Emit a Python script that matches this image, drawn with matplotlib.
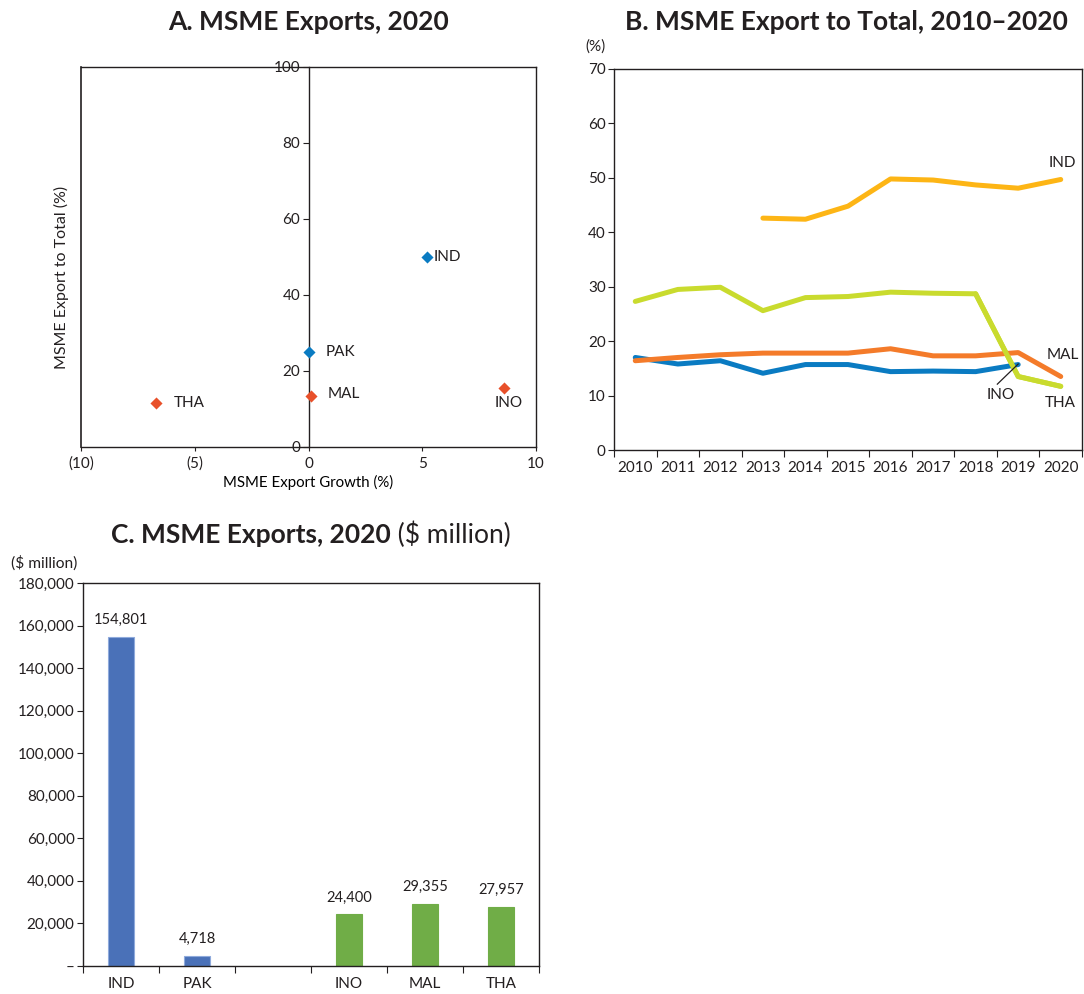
import matplotlib
matplotlib.use("Agg")
import matplotlib.pyplot as plt
from matplotlib.ticker import FuncFormatter, FixedLocator

plt.rcParams['font.family'] = ['Lato', 'DejaVu Sans']
plt.rcParams['text.color'] = '#231F20'
plt.rcParams['xtick.color'] = '#231F20'
plt.rcParams['ytick.color'] = '#231F20'

# Panel A: growth vs share, 2020
scatter_names = ["IND", "PAK", "MAL", "THA", "INO"]
export_growth = [5.2, 0.0, 0.1, -6.7, 8.6]
export_share = [50.0, 25.0, 13.5, 11.5, 15.6]
scatter_colors = ["#0A7BC2", "#0A7BC2", "#E8502A", "#E8502A", "#E8502A"]

# Panel B: share of MSME exports in total, 2010-2020
years = ["2010", "2011", "2012", "2013", "2014", "2015", "2016", "2017", "2018", "2019", "2020"]
share_ind = [None, None, None, 42.6, 42.4, 44.8, 49.8, 49.6, 48.7, 48.1, 49.7]
share_tha = [27.3, 29.5, 29.9, 25.6, 28.0, 28.2, 29.0, 28.8, 28.7, 13.5, 11.7]
share_mal = [16.4, 17.0, 17.5, 17.8, 17.8, 17.8, 18.6, 17.3, 17.3, 17.9, 13.5]
share_ino = [17.0, 15.8, 16.4, 14.1, 15.7, 15.7, 14.4, 14.5, 14.4, 15.7, None]

# Panel C: MSME exports 2020 ($ million)
bar_names = ["IND", "PAK", "", "INO", "MAL", "THA"]
bar_values = [154801, 4718, None, 24400, 29355, 27957]
bar_colors = ["#4A71B8", "#4A71B8", None, "#70AD47", "#70AD47", "#70AD47"]

fig = plt.figure(figsize=(10.84, 9.94), dpi=100)
W, H = 1084, 994
TITLE = 19


def box(l, t, r, b):
    return [l / W, 1 - b / H, (r - l) / W, (b - t) / H]


# ---------- A ----------
axA = fig.add_axes(box(81, 67, 536, 447))
for n, x, y, c in zip(scatter_names, export_growth, export_share, scatter_colors):
    axA.scatter(x, y, marker="D", s=38, color=c, zorder=3, linewidths=0)
offsets = {"IND": (5, 0, "left", "center"), "PAK": (12, 0, "left", "center"),
           "MAL": (12, 1, "left", "center"), "THA": (13, 0, "left", "center"),
           "INO": (3, -6, "center", "top")}
for n, x, y in zip(scatter_names, export_growth, export_share):
    dx, dy, ha, va = offsets[n]
    axA.annotate(n, (x, y), xytext=(dx, dy), textcoords="offset points",
                 ha=ha, va=va, fontsize=11)
axA.set_xlim(-10, 10)
axA.set_ylim(0, 100)
axA.spines['left'].set_position(('data', 0))
axA.axvline(-10, color='#231F20', lw=1.2, clip_on=False, zorder=4)
for s in axA.spines.values():
    s.set_color('#231F20')
    s.set_linewidth(1.0)
axA.set_xticks([-10, -5, 0, 5, 10])
axA.set_xticklabels(["(10)", "(5)", "0", "5", "10"], fontsize=11)
axA.set_yticks([0, 20, 40, 60, 80, 100])
axA.tick_params(axis='y', direction='out', length=4, labelsize=11, pad=2)
axA.tick_params(axis='x', direction='out', length=3, pad=4)
axA.set_xlabel("MSME Export Growth (%)", fontsize=10.8, labelpad=3)
fig.text(61 / W, 1 - 277 / H, "MSME Export to Total (%)", rotation=90,
         fontsize=11.5, ha='center', va='center')
fig.text(308.5 / W, 1 - 22 / H, "A. MSME Exports, 2020", fontsize=TITLE,
         fontweight='bold', ha='center', va='center')

# ---------- B ----------
axB = fig.add_axes(box(614, 69, 1082, 450))
xs = list(range(len(years)))


def seg(vals):
    pts = [(x, v) for x, v in zip(xs, vals) if v is not None]
    return [p[0] for p in pts], [p[1] for p in pts]


for vals, c in [(share_tha, "#C9DB2E"), (share_ind, "#FDB515"),
                (share_ino, "#0A7BC2"), (share_mal, "#F47B2A")]:
    px, py = seg(vals)
    axB.plot(px, py, color=c, lw=3.6, solid_capstyle='round', solid_joinstyle='round')
# thailand drawn over the others where it drops
px, py = seg(share_tha)
axB.plot(px[8:], py[8:], color="#C9DB2E", lw=3.6, solid_capstyle='round', zorder=3)
axB.set_xlim(-0.5, 10.5)
axB.set_ylim(0, 70)
axB.set_yticks(range(0, 71, 10))
axB.xaxis.set_major_locator(FixedLocator([i - 0.5 for i in range(12)]))
axB.xaxis.set_major_formatter(FuncFormatter(lambda v, p: ""))
axB.xaxis.set_minor_locator(FixedLocator(xs))
axB.set_xticklabels(years, minor=True)
axB.tick_params(axis='x', which='major', direction='out', length=5)
axB.tick_params(axis='x', which='minor', length=0, labelsize=11, pad=8)
axB.tick_params(axis='y', direction='out', length=4, labelsize=11, pad=2)
for s in axB.spines.values():
    s.set_color('#231F20')
    s.set_linewidth(1.0)
axB.text(10.05, 52.7, "IND", ha='center', va='center', fontsize=11)
axB.text(10.05, 17.5, "MAL", ha='center', va='center', fontsize=11)
axB.text(10.0, 8.6, "THA", ha='center', va='center', fontsize=11)
axB.text(8.58, 10.1, "INO", ha='center', va='center', fontsize=11)
axB.plot([8.51, 9.0], [12.1, 15.8], color='#231F20', lw=0.9, zorder=5)
fig.text(595 / W, 1 - 47 / H, "(%)", fontsize=11, ha='center', va='center')
fig.text(846 / W, 1 - 22 / H, "B. MSME Export to Total, 2010\u20132020", fontsize=TITLE,
         fontweight='bold', ha='center', va='center')

# ---------- C ----------
axC = fig.add_axes(box(83, 583, 539, 966))
bx = list(range(len(bar_names)))
for x, v, c in zip(bx, bar_values, bar_colors):
    if v is None:
        continue
    axC.bar(x, v, width=0.33, color=c, edgecolor='#8FAADC' if c == "#4A71B8" else c, lw=0.8)
    axC.text(x, v + 4500, f"{v:,}", ha='center', va='bottom', fontsize=10.5)
axC.set_xlim(-0.5, 5.5)
axC.set_ylim(0, 180000)
axC.set_yticks(range(0, 180001, 20000))
axC.yaxis.set_major_formatter(FuncFormatter(lambda v, p: "\u2013" if v == 0 else f"{int(v):,}"))
axC.xaxis.set_major_locator(FixedLocator([i - 0.5 for i in range(7)]))
axC.xaxis.set_major_formatter(FuncFormatter(lambda v, p: ""))
axC.xaxis.set_minor_locator(FixedLocator(bx))
axC.set_xticklabels(bar_names, minor=True)
axC.tick_params(axis='x', which='major', direction='out', length=5)
axC.tick_params(axis='x', which='minor', length=0, labelsize=11, pad=8)
axC.tick_params(axis='y', direction='out', length=4, labelsize=11, pad=2)
for s in axC.spines.values():
    s.set_color('#231F20')
    s.set_linewidth(1.0)
fig.text(44 / W, 1 - 563 / H, "($ million)", fontsize=11.2, ha='center', va='center')

# title with bold + regular parts
fig.canvas.draw()
r = fig.canvas.get_renderer()
t1 = fig.text(0, 1 - 535 / H, "C. MSME Exports, 2020", fontsize=TITLE, fontweight='bold',
              ha='left', va='center')
t2 = fig.text(0, 1 - 535 / H, " ($ million)", fontsize=TITLE, ha='left', va='center')
w1 = t1.get_window_extent(r).width
w2 = t2.get_window_extent(r).width
start = 311 - (w1 + w2) / 2
t1.set_x(start / W)
t2.set_x((start + w1) / W)

fig.savefig("out.png", dpi=100)
